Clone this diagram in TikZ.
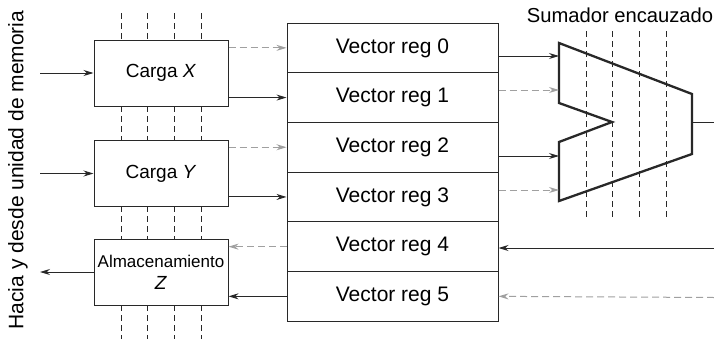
\documentclass[tikz,border=0pt]{standalone}
\usepackage{fontspec}
\setmainfont{Liberation Sans}
\usetikzlibrary{arrows.meta,calc}
\definecolor{lgray}{RGB}{160,160,160}
\definecolor{dk}{RGB}{40,40,40}
\begin{document}
\begin{tikzpicture}[x=1pt,y=-1pt,
  box/.style={draw=dk,line width=1pt,minimum width=134pt,minimum height=66pt,inner sep=0pt,font=\fontsize{19}{22}\selectfont},
  reg/.style={draw=dk,line width=1pt,minimum width=211pt,minimum height=49.7pt,inner sep=0pt,font=\fontsize{21}{24}\selectfont},
  blk/.style={dk,line width=1pt,-{Stealth[length=10pt,width=6pt]}},
  gry/.style={lgray,line width=1pt,dash pattern=on 7pt off 4pt,-{Stealth[length=10pt,width=6pt]}},
  vdash/.style={dk,line width=0.9pt,dash pattern=on 6pt off 4pt},
  adder/.style={dk,line width=2.3pt,line join=miter}]
\useasboundingbox (0,0) rectangle (714,340);
% left boxes
\node[box] (X) at (161,73) {Carga \textit{X}};
\node[box] (Y) at (161,173.5) {Carga \textit{Y}};
\node[box,align=center] (Z) at (161,272) {\fontsize{17}{28}\selectfont Almacenamiento\\\textit{Z}};
% registers
\foreach \i in {0,...,5}{
  \node[reg] (r\i) at (392.5,{23+49.7*\i+24.85}) {Vector reg \i};
}
% dashed verticals left
\foreach \x in {121,147,174,201}{
  \draw[vdash] (\x,13) -- (\x,40);
  \draw[vdash] (\x,106) -- (\x,141);
  \draw[vdash] (\x,206) -- (\x,239);
  \draw[vdash] (\x,305) -- (\x,339);
}
% memory side arrows
\coordinate (mX) at (40,73);
\coordinate (mY) at (40,173.5);
\coordinate (mZ) at (40,272);
\draw[blk] (mX) -- (X);
\draw[blk] (mY) -- (Y);
\draw[blk] (Z.west |- mZ) -- (mZ);
% box-register connectors
\draw[gry] (X.east |- r0) -- (r0.west);
\draw[blk] (X.east |- r1) -- (r1.west);
\draw[gry] (Y.east |- r2) -- (r2.west);
\draw[blk] (Y.east |- r3) -- (r3.west);
\draw[gry] (r4.west) -- (Z.east |- r4);
\draw[blk] (r5.west) -- (Z.east |- r5);
% adder
\coordinate (a0) at (559,56);
\coordinate (a1) at (559,90);
\coordinate (a2) at (559,156);
\coordinate (a3) at (559,190);
\coordinate (ao) at (692,122);
\coordinate (outR) at (714,122);
\draw[adder] (559,43) -- (692,94) -- (692,154) -- (559,201) -- (559,142) -- (612,122) -- (559,103) -- cycle;
\foreach \x in {586,612,639,666}{
  \draw[vdash] (\x,31) -- (\x,218);
}
\node[font=\fontsize{20.2}{22}\selectfont] (title) at (620,15) {Sumador encauzado};
\draw[dk,line width=1pt] (ao) -- (outR);
\draw[blk] (r0.east |- a0) -- (a0);
\draw[gry] (r1.east |- a1) -- (a1);
\draw[blk] (r2.east |- a2) -- (a2);
\draw[gry] (r3.east |- a3) -- (a3);
% inputs from right
\coordinate (in4) at (714,248);
\coordinate (in5) at (714,297.5);
\draw[blk] (in4) -- (r4.east |- in4);
\draw[gry] (in5) -- (r5.east);
% side label
\node[rotate=90,font=\fontsize{21}{24}\selectfont] (side) at (18,170) {Hacia y desde unidad de memoria};
\end{tikzpicture}
\end{document}
